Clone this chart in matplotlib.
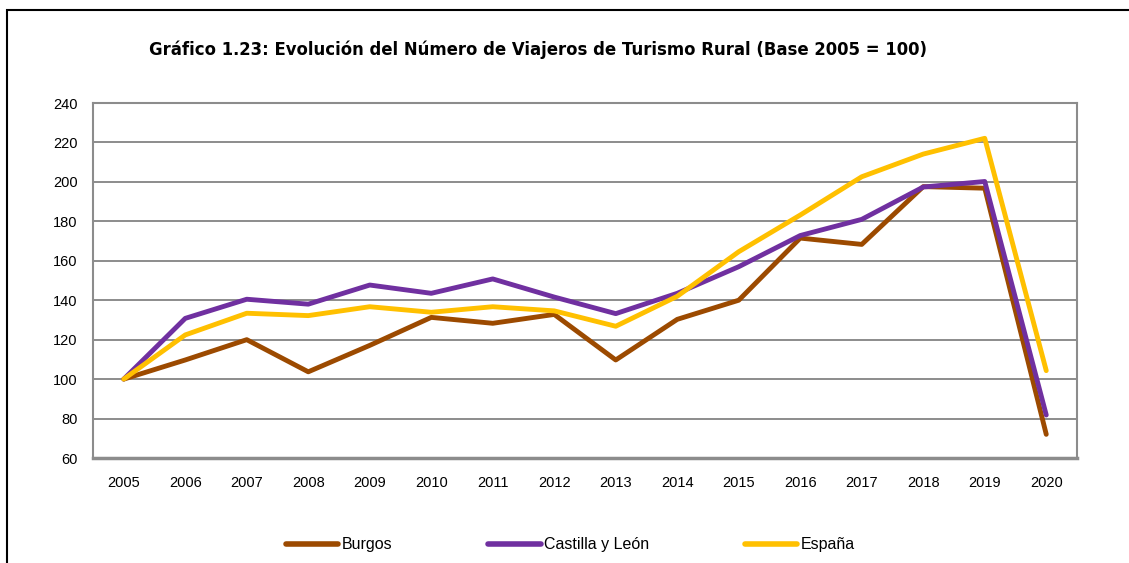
import numpy as np
import matplotlib
matplotlib.use('Agg')
import matplotlib.pyplot as plt
from matplotlib.patches import Rectangle

years = [str(y) for y in range(2005, 2021)]
burgos = [100, 109.7, 120, 103.7, 117.1, 131.3, 128.3, 132.8, 109.7, 130.3, 140, 171.5, 168.3, 197.6, 196.8, 72]
castilla = [100, 130.8, 140.5, 138, 147.7, 143.5, 150.8, 141.6, 133.2, 143.5, 157, 172.8, 181, 197.4, 200.2, 81.8]
espana = [100, 122.4, 133.4, 132.2, 136.7, 133.9, 136.7, 134.6, 126.8, 142, 164.6, 183.2, 202.6, 214.1, 222.1, 104.3]

title = 'Gráfico 1.23: Evolución del Número de Viajeros de Turismo Rural (Base 2005 = 100)'
narrow = ['Liberation Sans Narrow', 'Liberation Sans', 'DejaVu Sans']

fig = plt.figure(figsize=(11.29, 5.63), dpi=100)
ax = fig.add_axes([93 / 1129, 105 / 563, 984 / 1129, 355 / 563])

x = np.arange(len(years))
ax.plot(x, burgos, color='#9C4A00', lw=3.5, solid_capstyle='round', label='Burgos', zorder=3)
ax.plot(x, castilla, color='#7030A0', lw=3.5, solid_capstyle='round', label='Castilla y León', zorder=4)
ax.plot(x, espana, color='#FFC000', lw=3.5, solid_capstyle='round', label='España', zorder=5)

ax.set_xlim(-0.5, len(years) - 0.5)
ax.set_ylim(60, 240)
ax.set_yticks(range(60, 241, 20))
ax.set_xticks(x)
ax.set_xticklabels(years)
ax.grid(axis='y', color='#8c8c8c', lw=1.4)
ax.set_axisbelow(True)
for s in ax.spines.values():
    s.set_color('#8c8c8c')
    s.set_linewidth(1.5)
ax.spines['bottom'].set_linewidth(2.5)
ax.tick_params(length=0, labelsize=10.5)
ax.tick_params(axis='y', pad=11)
ax.tick_params(axis='x', pad=13)
for lab in ax.get_xticklabels() + ax.get_yticklabels():
    lab.set_family(narrow)

fig.text(538 / 1129, 1 - 50 / 563, title, ha='center', va='center',
         fontsize=11.9, fontweight='bold', family='DejaVu Sans')

leg = fig.legend(loc='center', bbox_to_anchor=(0.505, 18 / 563), ncol=3, frameon=False,
                 handlelength=3.3, handletextpad=0.2, columnspacing=6.0,
                 prop={'family': narrow, 'size': 11.5})
for h in leg.get_lines():
    h.set_linewidth(4)

fig.patches.append(Rectangle((7 / 1129, -0.1), 1.2, 1 - 10 / 563 + 0.1, transform=fig.transFigure,
                             fill=False, edgecolor='black', lw=1.5))

fig.savefig('out.png', dpi=100)
